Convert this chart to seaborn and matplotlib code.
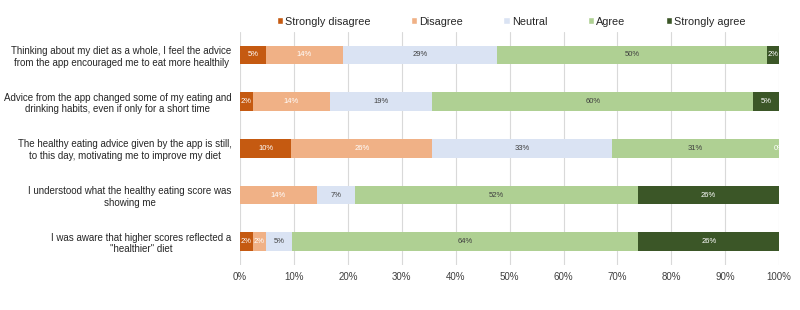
import numpy as np
import pandas as pd
import matplotlib
matplotlib.use("Agg")
import matplotlib.pyplot as plt
from matplotlib.patches import Patch
import seaborn as sns

statements = [
    "Thinking about my diet as a whole, I feel the advice\nfrom the app encouraged me to eat more healthily",
    "Advice from the app changed some of my eating and\ndrinking habits, even if only for a short time",
    "The healthy eating advice given by the app is still,\nto this day, motivating me to improve my diet",
    "I understood what the healthy eating score was\nshowing me",
    "I was aware that higher scores reflected a\n\"healthier\" diet",
]
responses = ["Strongly disagree", "Disagree", "Neutral", "Agree", "Strongly agree"]

# percentages per response (rows follow statements)
strongly_disagree = [4.8, 2.4, 9.5, np.nan, 2.4]
disagree = [14.3, 14.3, 26.2, 14.3, 2.4]
neutral = [28.6, 19.0, 33.3, 7.1, 4.8]
agree = [50.0, 59.5, 31.0, 52.4, 64.3]
strongly_agree = [2.4, 4.8, 0.0, 26.2, 26.2]

colors = ["#C55A11", "#F0B186", "#DAE3F3", "#AFD093", "#3B5627"]
text_colors = ["white", "white", "#404040", "#404040", "white"]

df = pd.DataFrame(
    {"Statement": statements,
     "Strongly disagree": strongly_disagree,
     "Disagree": disagree,
     "Neutral": neutral,
     "Agree": agree,
     "Strongly agree": strongly_agree}
)

sns.set_style("white")
plt.rcParams["font.family"] = ["Liberation Sans", "DejaVu Sans"]

fig = plt.figure(figsize=(8, 3.1), dpi=100)
ax = fig.add_axes([0.3, 0.145, 0.674, 0.753])

vals = df[responses].fillna(0).to_numpy()
cum = np.cumsum(vals, axis=1)

# stacked look: draw cumulative totals from the widest down
for i in reversed(range(len(responses))):
    sns.barplot(x=cum[:, i], y=df["Statement"], color=colors[i], orient="h",
                width=0.4, saturation=1, ax=ax, linewidth=0)

# value labels
for r in range(len(statements)):
    for i, resp in enumerate(responses):
        v = df[resp].iloc[r]
        if np.isnan(v):
            continue
        center = cum[r, i] - vals[r, i] / 2
        ax.text(center, r, f"{v:.0f}%", ha="center", va="center",
                fontsize=5.5, color=text_colors[i])

ax.set_xlim(0, 100)
ax.set_ylim(4.5, -0.5)
ax.set_xticks(np.arange(0, 101, 10))
ax.set_xticklabels([f"{t}%" for t in range(0, 101, 10)])
ax.xaxis.grid(True, color="#D9D9D9", linewidth=0.8)
ax.set_axisbelow(True)
for s in ax.spines.values():
    s.set_visible(False)
ax.set_xlabel("")
ax.set_ylabel("")
ax.tick_params(axis="x", labelsize=7, length=0, pad=5, colors="#404040")
ax.tick_params(axis="y", labelsize=7, length=0, pad=6)
for lab in ax.get_yticklabels():
    lab.set_multialignment("center")

handles = [Patch(facecolor=c, label=l) for c, l in zip(colors, responses)]
fig.legend(handles=handles, loc="center", bbox_to_anchor=(0.639, 0.93), ncol=5,
           frameon=False, fontsize=7.8, handlelength=0.6, handleheight=0.6,
           handletextpad=0.2, columnspacing=3.7)

fig.savefig("out.png", dpi=100)
